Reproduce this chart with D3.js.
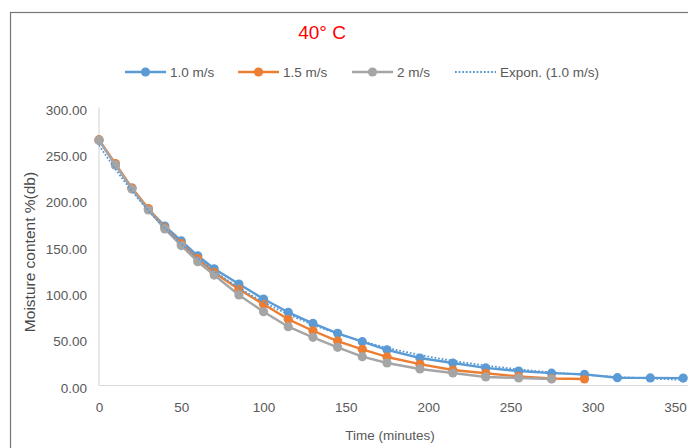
<!DOCTYPE html>
<html>
<head>
<meta charset="utf-8">
<script src="https://cdn.jsdelivr.net/npm/d3@7"></script>
<style>
  html, body { margin: 0; padding: 0; background: #fff; }
  svg { display: block; }
  text { font-family: "Liberation Sans", Arial, sans-serif; }
</style>
</head>
<body>
<svg id="chart" width="688" height="448"></svg>
<script>
// Drying time (minutes) for each air velocity
const timesFast = [0, 10, 20, 30, 40, 50, 60, 70, 85, 100, 115, 130, 145, 160, 175, 195, 215, 235, 255, 275, 295, 315, 335, 355];

// Moisture content %(db)
const v10 = [265, 238, 213, 190, 172, 156, 140, 126, 109.5, 93.3, 79, 67, 56.3, 47.3, 38.5, 29.7, 24.3, 19, 15.6, 13.3, 12, 8.4, 8.2, 8];
const v15 = [265, 239.5, 213, 191, 170, 153, 137, 122, 103.8, 87.6, 71.4, 59.1, 48, 39, 30.8, 23, 16.7, 13.2, 9.8, 7.5, 7];
const v20 = [264.5, 238, 212, 189.4, 169, 151, 133.6, 119.2, 97.7, 79.6, 63.5, 52, 41.2, 31.1, 24.3, 17.8, 13.5, 9.2, 8.1, 7];

const seriesNames = ["1.0 m/s", "1.5 m/s", "2 m/s"];
const seriesColors = ["#5B9BD5", "#ED7D31", "#A5A5A5"];
const trendName = "Expon. (1.0 m/s)";

const yTicks = [0, 50, 100, 150, 200, 250, 300];
const xTicks = [0, 50, 100, 150, 200, 250, 300, 350];

const titleText = "40° C";
const xTitle = "Time (minutes)";
const yTitle = "Moisture content %(db)";

const svg = d3.select("#chart");

const x = d3.scaleLinear().domain([0, 350]).range([99, 675]);
const y = d3.scaleLinear().domain([0, 300]).range([385.5, 107.5]);

// Chart border (runs past the right and bottom edges)
svg.append("rect")
  .attr("x", 10.5).attr("y", 12.5)
  .attr("width", 720).attr("height", 480)
  .attr("fill", "#fff")
  .attr("stroke", "#767676").attr("stroke-width", 1.2);

// Title
svg.append("text")
  .attr("x", 322).attr("y", 38.5)
  .attr("text-anchor", "middle")
  .attr("fill", "#FF0000")
  .attr("font-size", 19)
  .text(titleText);

// Axis lines
svg.append("line")
  .attr("x1", x(0)).attr("x2", x(0))
  .attr("y1", y(300)).attr("y2", y(0))
  .attr("stroke", "#D9D9D9").attr("stroke-width", 1.2);
svg.append("line")
  .attr("x1", x(0)).attr("x2", 688)
  .attr("y1", y(0)).attr("y2", y(0))
  .attr("stroke", "#D9D9D9").attr("stroke-width", 1.2);

// Y axis labels
const yAxis = d3.axisLeft(y).tickValues(yTicks).tickFormat(d3.format(".2f")).tickSize(0).tickPadding(12);
const gy = svg.append("g").attr("transform", `translate(${x(0)},0)`).call(yAxis);
gy.select(".domain").remove();
gy.selectAll("text")
  .attr("font-family", "Liberation Sans, Arial, sans-serif")
  .attr("font-size", 13.5).attr("fill", "#595959")
  .attr("dy", "0.5em");

// X axis labels
const xAxis = d3.axisBottom(x).tickValues(xTicks).tickSize(0).tickPadding(17);
const gx = svg.append("g").attr("transform", `translate(0,${y(0)})`).call(xAxis);
gx.select(".domain").remove();
gx.selectAll("text")
  .attr("font-family", "Liberation Sans, Arial, sans-serif")
  .attr("font-size", 13.5).attr("fill", "#595959");

// Axis titles
svg.append("text")
  .attr("x", 390).attr("y", 440)
  .attr("text-anchor", "middle")
  .attr("font-size", 13.5).attr("fill", "#595959")
  .text(xTitle);
svg.append("text")
  .attr("transform", "translate(35,252) rotate(-90)")
  .attr("text-anchor", "middle")
  .attr("font-size", 15.5).attr("fill", "#4a4a4a")
  .text(yTitle);

// Series
const seriesValues = [v10, v15, v20];
const line = d3.line().x(d => x(d[0])).y(d => y(d[1]));

seriesValues.forEach((vals, i) => {
  const pts = vals.map((v, k) => [timesFast[k], v]);
  const g = svg.append("g");
  g.append("path")
    .attr("d", line(pts))
    .attr("fill", "none")
    .attr("stroke", seriesColors[i])
    .attr("stroke-width", 2.4)
    .attr("stroke-linejoin", "round");
  g.selectAll("circle").data(pts).join("circle")
    .attr("cx", d => x(d[0])).attr("cy", d => y(d[1]))
    .attr("r", 4.6)
    .attr("fill", seriesColors[i]);
});

// Exponential trendline fitted to the 1.0 m/s series (least squares on ln y)
(function () {
  const n = timesFast.length;
  const lx = timesFast, ly = v10.map(Math.log);
  const mx = d3.mean(lx), my = d3.mean(ly);
  let sxy = 0, sxx = 0;
  for (let k = 0; k < n; k++) {
    sxy += (lx[k] - mx) * (ly[k] - my);
    sxx += (lx[k] - mx) * (lx[k] - mx);
  }
  const b = sxy / sxx;
  const a = Math.exp(my - b * mx);
  const tMax = d3.max(timesFast);
  const pts = d3.range(0, tMax + 0.5, 1).map(t => [t, a * Math.exp(b * t)]);
  svg.append("path")
    .attr("d", line(pts))
    .attr("fill", "none")
    .attr("stroke", seriesColors[0])
    .attr("stroke-width", 1.8)
    .attr("stroke-dasharray", "1.8,1.8");
})();

// Legend
const legendItems = [
  { name: seriesNames[0], color: seriesColors[0], x0: 125, dotted: false },
  { name: seriesNames[1], color: seriesColors[1], x0: 238, dotted: false },
  { name: seriesNames[2], color: seriesColors[2], x0: 352, dotted: false },
  { name: trendName, color: seriesColors[0], x0: 455, dotted: true }
];
const ly0 = 72;
legendItems.forEach(it => {
  const g = svg.append("g");
  g.append("line")
    .attr("x1", it.x0).attr("x2", it.x0 + 41)
    .attr("y1", ly0).attr("y2", ly0)
    .attr("stroke", it.color)
    .attr("stroke-width", it.dotted ? 1.8 : 2.4)
    .attr("stroke-dasharray", it.dotted ? "1.8,1.8" : null);
  if (!it.dotted) {
    g.append("circle").attr("cx", it.x0 + 20.5).attr("cy", ly0).attr("r", 4.6).attr("fill", it.color);
  }
  g.append("text")
    .attr("x", it.x0 + 45).attr("y", ly0 + 5)
    .attr("font-size", 13.5).attr("fill", "#595959")
    .text(it.name);
});
</script>
</body>
</html>
